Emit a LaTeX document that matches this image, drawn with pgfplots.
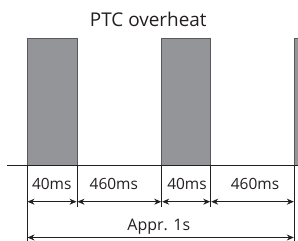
\documentclass[border=0pt]{standalone}
\usepackage{pgfplots}
\pgfplotsset{compat=1.18}
\usepackage{fontspec}
\setmainfont{Open Sans}
\usetikzlibrary{arrows.meta}
\definecolor{barfill}{HTML}{939598}
\definecolor{baredge}{HTML}{58595B}
\definecolor{ink}{HTML}{231F20}
\begin{document}
\begin{tikzpicture}
\begin{axis}[
  scale only axis, width=298bp, height=241bp,
  xmin=0, xmax=298, ymin=0, ymax=241, y dir=reverse,
  axis lines=none, clip=true,
]
% bars (pulses)
\addplot[fill=barfill, draw=baredge, line width=0.8bp] coordinates {(27,165) (27,38) (77,38) (77,165)} -- cycle;
\addplot[fill=barfill, draw=baredge, line width=0.8bp] coordinates {(161.7,165) (161.7,38) (210.7,38) (210.7,165)} -- cycle;
\addplot[fill=barfill, draw=none] coordinates {(294.3,165) (294.3,38) (298,38) (298,165)} -- cycle;
\addplot[baredge, line width=0.8bp] coordinates {(294.3,38) (298,38)};
% baseline
\addplot[ink, line width=0.8bp] coordinates {(7,165) (298,165)};
% vertical extension lines
\addplot[ink, line width=0.8bp] coordinates {(27,165) (27,241)};
\addplot[ink, line width=0.8bp] coordinates {(77,165) (77,207)};
\addplot[ink, line width=0.8bp] coordinates {(161.7,165) (161.7,207)};
\addplot[ink, line width=0.8bp] coordinates {(210.7,165) (210.7,207)};
\addplot[baredge, line width=0.8bp] coordinates {(294.3,38) (294.3,165)};
\addplot[ink, line width=0.8bp] coordinates {(294.3,165) (294.3,241)};
% dimension arrows
\addplot[ink, line width=0.8bp, {Stealth[length=7bp,width=6bp]}-{Stealth[length=7bp,width=6bp]}] coordinates {(27.5,201.7) (76.5,201.7)};
\addplot[ink, line width=0.8bp, {Stealth[length=7bp,width=6bp]}-{Stealth[length=7bp,width=6bp]}] coordinates {(77.5,201.7) (161.2,201.7)};
\addplot[ink, line width=0.8bp, {Stealth[length=7bp,width=6bp]}-{Stealth[length=7bp,width=6bp]}] coordinates {(162.2,201.7) (210.2,201.7)};
\addplot[ink, line width=0.8bp, {Stealth[length=7bp,width=6bp]}-{Stealth[length=7bp,width=6bp]}] coordinates {(211.2,201.7) (293.8,201.7)};
\addplot[ink, line width=0.8bp, {Stealth[length=7bp,width=6bp]}-{Stealth[length=7bp,width=6bp]}] coordinates {(27.5,237.5) (293.8,237.5)};
% labels
\node[text=ink, anchor=base, inner sep=0pt, font=\fontsize{19}{22}\selectfont] at (axis cs:148.3,26.7) {PTC overheat};
\node[text=ink, anchor=base, inner sep=0pt, font=\fontsize{15.5}{18}\selectfont] at (axis cs:51.7,189.3) {40ms};
\node[text=ink, anchor=base, inner sep=0pt, font=\fontsize{15.5}{18}\selectfont] at (axis cs:113.8,189.3) {460ms};
\node[text=ink, anchor=base, inner sep=0pt, font=\fontsize{15.5}{18}\selectfont] at (axis cs:187,189.3) {40ms};
\node[text=ink, anchor=base, inner sep=0pt, font=\fontsize{15.5}{18}\selectfont] at (axis cs:255,189.3) {460ms};
\node[text=ink, anchor=base, inner sep=0pt, font=\fontsize{16}{19}\selectfont] at (axis cs:158.8,230.3) {Appr. 1s};
\end{axis}
\pgfresetboundingbox
\useasboundingbox (current axis.south west) rectangle (current axis.north east);
\end{tikzpicture}
\end{document}
